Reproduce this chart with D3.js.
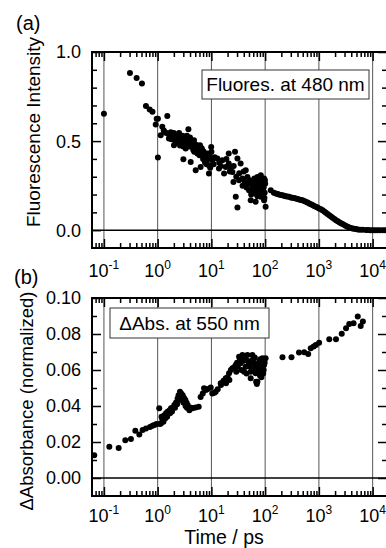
<!DOCTYPE html>
<html>
<head>
<meta charset="utf-8">
<script src="https://cdn.jsdelivr.net/npm/d3@7"></script>
<style>
  body { margin: 0; background: #fff; }
  svg { display: block; font-family: "Liberation Sans", Arial, sans-serif; }
</style>
</head>
<body>
<svg id="chart" width="386" height="548"></svg>
<script>
// decade ticks shared by both panels
const decades = [0.1, 1, 10, 100, 1000, 10000];
const decadeExp = ["-1", "0", "1", "2", "3", "4"];

// (a) fluorescence at 480 nm
const fluorT = [0.10, 0.305, 0.406, 0.51, 0.605, 0.71, 0.80, 0.92, 0.96, 1.01, 1.01, 1.14, 1.22, 1.35, 1.51,
  1.62, 1.70, 1.88, 2.01, 2.10, 2.20, 2.33, 2.45, 2.55, 2.68, 2.68, 2.85, 3.01, 3.09, 3.2, 3.32, 3.45, 3.6,
  3.73, 3.9, 4.12, 4.12, 4.3, 4.43, 4.6, 4.74, 4.9, 5.1, 5.1, 5.3, 5.48, 5.7, 5.9, 6.13, 6.3, 6.5, 6.8, 7.0,
  7.3, 7.6, 7.83, 8.1, 8.4, 9.0, 9.0, 9.5, 9.9, 10.4, 11.5, 12.9, 13.8, 15, 16, 17.2, 18.5, 21, 21, 23, 24.6,
  25.7, 27.5, 28.4, 30.5, 30.5, 32.7, 35, 37.8, 40, 43.5, 46.8, 50.1, 52, 53.9, 53.9, 58, 62, 63, 66.5, 66.5,
  70, 71.9, 75, 78, 83, 83, 86, 89, 92, 95.5, 95.5, 98, 100, 102,
  127, 145, 158, 170, 180, 195, 210, 225, 240, 258, 278, 300, 320, 345, 372, 400, 430, 462, 497, 530, 570, 615,
  660, 710, 760, 815, 877, 940, 1010, 1090, 1170, 1260, 1350, 1450, 1560, 1680, 1800, 1940, 2080, 2240, 2400,
  2580, 2760, 2970, 3200, 3420, 3670, 3930, 4200, 4540, 4890, 5300, 5800, 6500, 7500, 8200, 9000, 10000, 11000,
  12200, 13500, 15200, 17000,
  1.3, 1.45, 1.6, 1.75, 1.8, 2.0, 2.15, 2.3, 2.5, 2.6, 2.9, 3.0, 3.3, 3.5, 3.8, 4.0, 4.5, 4.8, 5.2, 5.6, 6.0,
  6.6, 7.2, 7.8, 8.8, 9.3, 10.0, 11, 14, 19, 22, 26, 29, 33, 38, 42, 45, 48, 55, 57, 60, 64, 68, 72, 76, 80,
  84, 88, 90, 94, 97, 99];
const fluorY = [0.654, 0.882, 0.854, 0.823, 0.697, 0.677, 0.664, 0.593, 0.626, 0.626, 0.408, 0.533, 0.58, 0.551, 0.641,
  0.514, 0.525, 0.533, 0.477, 0.53, 0.51, 0.533, 0.50, 0.515, 0.523, 0.486, 0.50, 0.398, 0.495, 0.52, 0.458, 0.485, 0.50,
  0.566, 0.47, 0.495, 0.383, 0.48, 0.467, 0.45, 0.505, 0.47, 0.458, 0.337, 0.44, 0.43, 0.46, 0.44, 0.477, 0.355, 0.42, 0.449, 0.40,
  0.411, 0.38, 0.393, 0.37, 0.43, 0.365, 0.318, 0.35, 0.467, 0.393, 0.41, 0.402, 0.346, 0.36, 0.393, 0.318, 0.355, 0.43, 0.374, 0.35, 0.327,
  0.271, 0.44, 0.187, 0.402, 0.127, 0.28, 0.374, 0.29, 0.33, 0.337, 0.299, 0.224, 0.28, 0.262, 0.168, 0.25, 0.243, 0.29, 0.206, 0.159,
  0.27, 0.299, 0.23, 0.26, 0.308, 0.187, 0.25, 0.224, 0.27, 0.29, 0.168, 0.21, 0.26, 0.131,
  0.224, 0.210, 0.206, 0.203, 0.200, 0.198, 0.196, 0.193, 0.191, 0.189, 0.187, 0.184, 0.182, 0.181, 0.178, 0.175, 0.172, 0.170, 0.168, 0.164, 0.160, 0.155,
  0.150, 0.146, 0.141, 0.136, 0.131, 0.127, 0.122, 0.117, 0.112, 0.105, 0.098, 0.091, 0.084, 0.077, 0.070, 0.063, 0.056, 0.050, 0.045,
  0.039, 0.034, 0.029, 0.024, 0.019, 0.015, 0.012, 0.010, 0.008, 0.006, 0.004, 0.003, 0.002, 0.001, 0.001, 0.0, 0.0, 0.0,
  0.0, 0.0, 0.0, 0.0,
  0.56, 0.545, 0.54, 0.55, 0.51, 0.545, 0.49, 0.515, 0.545, 0.475, 0.53, 0.47, 0.51, 0.53, 0.49, 0.52, 0.49, 0.44, 0.48, 0.45, 0.42,
  0.46, 0.44, 0.42, 0.40, 0.42, 0.44, 0.37, 0.38, 0.40, 0.33, 0.36, 0.30, 0.32, 0.25, 0.27, 0.24, 0.26, 0.20, 0.23, 0.27, 0.22, 0.25, 0.19, 0.21, 0.28,
  0.23, 0.27, 0.20, 0.24, 0.18, 0.28];

// (b) transient absorbance at 550 nm
const absT = [0.066, 0.126, 0.188, 0.25, 0.318, 0.384, 0.456, 0.525, 0.606, 0.72, 0.80, 0.87, 0.95, 1.07, 1.10,
  1.15, 1.22, 1.28, 1.33, 1.43, 1.53, 1.65, 1.77, 1.90, 2.04, 2.2, 2.35, 2.45, 2.6, 2.75, 2.92, 3.1, 3.28, 3.45,
  3.62, 3.89, 4.2, 4.48, 5.1, 5.8, 6.3, 6.9, 7.3, 7.9, 8.6, 9.7, 10.4, 11.4, 12, 13.1, 14.9, 15.1, 16.8, 18.5,
  18.7, 20, 21.3, 21.6, 23, 24.6, 26.5, 28.3, 30, 32.7, 35, 37.8, 40.5, 42, 43.4, 46.8, 48, 50.1, 53.8, 53.8,
  57.8, 60, 62, 66.5, 66.5, 68, 70, 71.9, 74, 77.2, 80, 83, 86, 89, 92, 95.5, 102,
  210, 309, 426, 532, 632, 705, 800, 877, 1010, 1560, 2080, 2660, 3200, 3670, 4410, 5280, 6000, 6580,
  1.18, 1.38, 1.5, 1.7, 1.85, 2.1, 2.3, 2.5, 2.65, 2.85, 3.0, 3.3, 3.5,
  29, 31, 34, 36, 39, 45, 52, 56, 59, 64, 72, 76, 81, 85, 88, 94, 98];
const absY = [0.0126, 0.0173, 0.0167, 0.021, 0.0216, 0.0262, 0.0242, 0.0266, 0.0275, 0.0284, 0.029, 0.0294, 0.030, 0.0387, 0.0300,
  0.0303, 0.0325, 0.0312, 0.0349, 0.036, 0.0368, 0.0375, 0.0387, 0.039, 0.0405, 0.042, 0.0442, 0.046, 0.0479, 0.047, 0.046, 0.0445, 0.0433, 0.0418,
  0.0405, 0.0377, 0.039, 0.0387, 0.0392, 0.0396, 0.045, 0.047, 0.0498, 0.0489, 0.0495, 0.0503, 0.047, 0.0474, 0.0479, 0.0493, 0.0526, 0.0516, 0.054, 0.0554,
  0.0526, 0.056, 0.0582, 0.0544, 0.060, 0.061, 0.0615, 0.0628, 0.064, 0.0674, 0.0637, 0.0684, 0.059, 0.066, 0.0618, 0.0684, 0.065, 0.0637, 0.059, 0.0554,
  0.0684, 0.066, 0.0637, 0.0582, 0.0618, 0.0535, 0.0522, 0.0535, 0.060, 0.0646, 0.057, 0.0618, 0.060, 0.0665, 0.058, 0.0628, 0.0665,
  0.0671, 0.0671, 0.0697, 0.0699, 0.0689, 0.0721, 0.0730, 0.0739, 0.0752, 0.0771, 0.0771, 0.0801, 0.0832, 0.0856, 0.086, 0.0897, 0.0845, 0.0869,
  0.034, 0.033, 0.034, 0.036, 0.037, 0.039, 0.041, 0.0435, 0.045, 0.0435, 0.042, 0.040, 0.039,
  0.059, 0.062, 0.066, 0.060, 0.065, 0.058, 0.062, 0.065, 0.060, 0.067, 0.063, 0.058, 0.066, 0.056, 0.062, 0.060, 0.064];

// y ticks
const fluorMajor = [0, 0.5, 1.0];
const fluorMajorLabels = ["0.0", "0.5", "1.0"];
const fluorMinor = [0.1, 0.2, 0.3, 0.4, 0.6, 0.7, 0.8, 0.9];
const absMajor = [0, 0.02, 0.04, 0.06, 0.08, 0.10];
const absMajorLabels = ["0.00", "0.02", "0.04", "0.06", "0.08", "0.10"];
const absMinor = [0.01, 0.03, 0.05, 0.07, 0.09];

const svg = d3.select("#chart");
const left = 92, right = 387;
const x = d3.scaleLog().domain([0.06, 1.85e4]).range([left, right]);

// minor x ticks: 2..9 inside each decade
const xMinor = [];
[0.01, 0.1, 1, 10, 100, 1000, 10000].forEach(b => {
  for (let k = 2; k <= 9; k++) {
    const v = b * k;
    if (v > 0.06 && v < 1.85e4) xMinor.push(v);
  }
});

function drawPanel(cfg) {
  const y = d3.scaleLinear().domain(cfg.yDomain).range([cfg.bottom, cfg.top]);
  const g = svg.append("g");
  const clipId = "clip-" + cfg.tag;

  g.append("clipPath").attr("id", clipId)
    .append("rect")
    .attr("x", left).attr("y", cfg.top)
    .attr("width", right - left).attr("height", cfg.bottom - cfg.top);

  // vertical grid lines at decades
  g.selectAll(".grid").data(decades).enter().append("line")
    .attr("x1", d => x(d)).attr("x2", d => x(d))
    .attr("y1", cfg.top).attr("y2", cfg.bottom)
    .attr("stroke", "#555").attr("stroke-width", 1);

  // zero line
  g.append("line")
    .attr("x1", left).attr("x2", right)
    .attr("y1", y(0)).attr("y2", y(0))
    .attr("stroke", "#000").attr("stroke-width", 1.5);

  // data points
  g.append("g").attr("clip-path", `url(#${clipId})`)
    .selectAll("circle").data(cfg.t).enter().append("circle")
    .attr("cx", d => x(d))
    .attr("cy", (d, i) => y(cfg.v[i]))
    .attr("r", 3)
    .attr("fill", "#000");

  // legend box
  g.append("rect")
    .attr("x", cfg.legend.x).attr("y", cfg.legend.y)
    .attr("width", cfg.legend.w).attr("height", cfg.legend.h)
    .attr("fill", "#fff").attr("stroke", "#333").attr("stroke-width", 1);
  g.append("text")
    .attr("x", cfg.legend.x + cfg.legend.w / 2)
    .attr("y", cfg.legend.y + cfg.legend.h / 2)
    .attr("dy", "0.36em")
    .attr("text-anchor", "middle")
    .attr("font-size", 19)
    .text(cfg.legend.text);

  // axes: ticks pointing inward on all four sides
  const addAxis = (axis, transform) => {
    const a = g.append("g").attr("transform", transform).call(axis);
    a.selectAll("text").remove();
    a.select(".domain").remove();
    a.selectAll("line").attr("stroke", "#000").attr("stroke-width", 1.5);
  };
  addAxis(d3.axisBottom(x).tickValues(decades).tickSize(-9), `translate(0,${cfg.bottom})`);
  addAxis(d3.axisBottom(x).tickValues(xMinor).tickSize(-5), `translate(0,${cfg.bottom})`);
  addAxis(d3.axisTop(x).tickValues(decades).tickSize(-9), `translate(0,${cfg.top})`);
  addAxis(d3.axisTop(x).tickValues(xMinor).tickSize(-5), `translate(0,${cfg.top})`);
  addAxis(d3.axisLeft(y).tickValues(cfg.major).tickSize(-9), `translate(${left},0)`);
  addAxis(d3.axisLeft(y).tickValues(cfg.minor).tickSize(-5), `translate(${left},0)`);
  addAxis(d3.axisRight(y).tickValues(cfg.major).tickSize(-9), `translate(${right},0)`);
  addAxis(d3.axisRight(y).tickValues(cfg.minor).tickSize(-5), `translate(${right},0)`);

  // frame
  g.append("rect")
    .attr("x", left).attr("y", cfg.top)
    .attr("width", right - left).attr("height", cfg.bottom - cfg.top)
    .attr("fill", "none").attr("stroke", "#000").attr("stroke-width", 2);

  // y tick labels
  g.selectAll(".ylab").data(cfg.major).enter().append("text")
    .attr("x", 81).attr("y", d => y(d)).attr("dy", "0.36em")
    .attr("text-anchor", "end").attr("font-size", 18)
    .text((d, i) => cfg.majorLabels[i]);

  // x tick labels 10^n
  const xl = g.selectAll(".xlab").data(decades).enter().append("text")
    .attr("x", d => x(d)).attr("y", cfg.bottom + cfg.xLabDy)
    .attr("text-anchor", "middle").attr("font-size", 18);
  xl.append("tspan").text("10");
  xl.append("tspan").attr("dy", -8).attr("font-size", 12).text((d, i) => decadeExp[i]);

  // y title
  g.append("text")
    .attr("transform", `translate(${cfg.titleX},${cfg.titleY}) rotate(-90)`)
    .attr("text-anchor", "middle").attr("font-size", cfg.titleSize)
    .text(cfg.yTitle);

  // panel tag
  g.append("text").attr("x", cfg.tagX).attr("y", cfg.tagY)
    .attr("font-size", 20).text(`(${cfg.tag})`);
}

drawPanel({
  tag: "a", top: 52, bottom: 248, yDomain: [-0.1, 1.0],
  t: fluorT, v: fluorY, xLabDy: 29,
  major: fluorMajor, majorLabels: fluorMajorLabels, minor: fluorMinor,
  legend: { x: 202, y: 70, w: 167, h: 29, text: "Fluores. at 480 nm" },
  yTitle: "Fluorescence Intensity", titleX: 40, titleY: 132, titleSize: 19,
  tagX: 16, tagY: 30
});

drawPanel({
  tag: "b", top: 298, bottom: 496, yDomain: [-0.01, 0.10],
  t: absT, v: absY, xLabDy: 26,
  major: absMajor, majorLabels: absMajorLabels, minor: absMinor,
  legend: { x: 110, y: 308, w: 159, h: 30, text: "\u0394Abs. at 550 nm" },
  yTitle: "\u0394Absorbance (normalized)", titleX: 33, titleY: 401, titleSize: 18.5,
  tagX: 14, tagY: 284
});

svg.append("text")
  .attr("x", 224).attr("y", 543.5)
  .attr("text-anchor", "middle").attr("font-size", 19.5)
  .text("Time / ps");
</script>
</body>
</html>
